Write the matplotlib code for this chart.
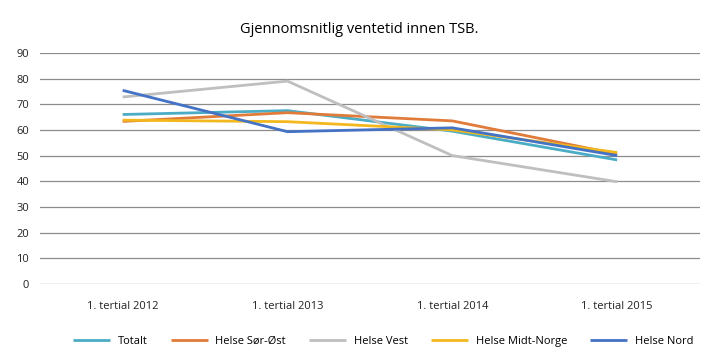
import matplotlib.pyplot as plt

plt.rcParams['font.family'] = ['Open Sans', 'DejaVu Sans']

categories = ['1. tertial 2012', '1. tertial 2013', '1. tertial 2014', '1. tertial 2015']
totalt = [66.0, 67.5, 59.5, 48.3]
sor_ost = [63.3, 66.7, 63.5, 50.6]
vest = [72.8, 79.0, 50.0, 39.8]
midt_norge = [63.8, 63.2, 60.0, 51.2]
nord = [75.4, 59.3, 60.8, 50.0]

series = [
    ('Totalt', totalt, '#4BACC6'),
    ('Helse Sør-Øst', sor_ost, '#E07B39'),
    ('Helse Vest', vest, '#BFBFBF'),
    ('Helse Midt-Norge', midt_norge, '#F2B81E'),
    ('Helse Nord', nord, '#4472C4'),
]

fig = plt.figure(figsize=(7.19, 3.62), dpi=100)
ax = fig.add_axes([0.056, 0.2155, 0.917, 0.6385])

x = range(len(categories))
for name, vals, col in series:
    ax.plot(x, vals, color=col, lw=2, label=name, solid_capstyle='butt')

ax.set_xlim(-0.5, len(categories) - 0.5)
ax.set_ylim(0, 90)
ax.set_yticks(range(0, 91, 10))
ax.set_xticks(list(x))
ax.set_xticklabels(categories)
ax.yaxis.grid(True, color='#8c8c8c', lw=0.9)
ax.set_axisbelow(True)
for s in ax.spines.values():
    s.set_visible(False)
ax.tick_params(length=0, labelsize=8, colors='#222222')
ax.tick_params(axis='x', pad=12)
ax.tick_params(axis='y', pad=8)

fig.suptitle('Gjennomsnitlig ventetid innen TSB.', y=0.94, fontsize=10.5)
fig.legend(loc='lower center', bbox_to_anchor=(0.533, 0.015), ncol=5, frameon=False,
           fontsize=8, handlelength=3.3, handletextpad=0.7, columnspacing=2.1)

fig.savefig('out.png', dpi=100)
